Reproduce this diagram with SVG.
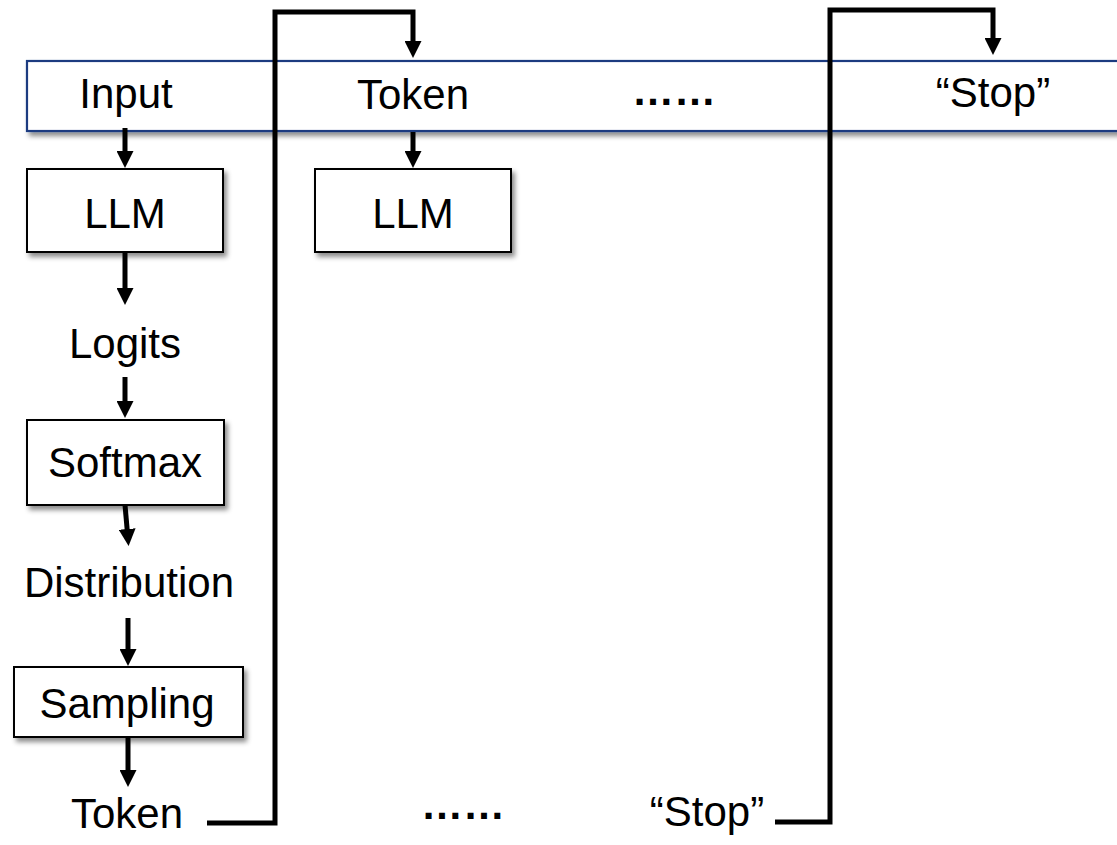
<svg xmlns="http://www.w3.org/2000/svg" width="1117" height="845" viewBox="0 0 1117 845">
  <style>
    .lbl { font-family: "Liberation Sans", Arial, sans-serif; font-size: 42px; fill: #000; text-anchor: middle; }
    .dots { font-family: "Liberation Sans", Arial, sans-serif; font-size: 42px; font-weight: bold; fill: #000; text-anchor: middle; }
    .box { fill: #fff; stroke: #000; stroke-width: 2; filter: url(#shadow); }
    .banner { fill: #fff; stroke: #1F3A80; stroke-width: 2.2; filter: url(#shadow); }
    .conn { fill: none; stroke: #000; stroke-width: 5; stroke-linejoin: miter; }
    .arr { marker-end: url(#ah); }
  </style>
  <defs>
    <filter id="shadow" x="-10%" y="-10%" width="130%" height="140%">
      <feDropShadow dx="3" dy="4" stdDeviation="2.5" flood-color="#000" flood-opacity="0.45"/>
    </filter>
    <marker id="ah" viewBox="0 0 17 17" refX="1" refY="8.5" markerWidth="17" markerHeight="17" markerUnits="userSpaceOnUse" orient="auto">
      <path d="M0,0 L17,8.5 L0,17 z" fill="#000"/>
    </marker>
  </defs>

  <g id="banner">
    <rect class="banner" x="27" y="61" width="1110" height="70"/>
    <text class="lbl" x="126" y="108">Input</text>
    <text class="lbl" x="413" y="109">Token</text>
    <text class="dots" x="674" y="105">……</text>
    <text class="lbl" x="993" y="107">“Stop”</text>
  </g>

  <g id="llm1">
    <rect class="box" x="27" y="169" width="196" height="83"/>
    <text class="lbl" x="125" y="228">LLM</text>
  </g>
  <g id="llm2">
    <rect class="box" x="315" y="169" width="196" height="83"/>
    <text class="lbl" x="413" y="228">LLM</text>
  </g>
  <g id="logits">
    <text class="lbl" x="125" y="358">Logits</text>
  </g>
  <g id="softmax">
    <rect class="box" x="27" y="420" width="197" height="85"/>
    <text class="lbl" x="125" y="477">Softmax</text>
  </g>
  <g id="distribution">
    <text class="lbl" x="129" y="597">Distribution</text>
  </g>
  <g id="sampling">
    <rect class="box" x="14" y="667" width="229" height="70"/>
    <text class="lbl" x="127" y="718">Sampling</text>
  </g>
  <g id="token-out">
    <text class="lbl" x="127" y="828">Token</text>
  </g>
  <g id="dots-out">
    <text class="dots" x="463" y="819">……</text>
  </g>
  <g id="stop-out">
    <text class="lbl" x="707" y="826">“Stop”</text>
  </g>

  <g id="connectors">
    <path class="conn arr" d="M125,128 V152"/>
    <path class="conn arr" d="M125,252 V289"/>
    <path class="conn arr" d="M125,377 V402"/>
    <path class="conn arr" d="M125,505 L127.2,530"/>
    <path class="conn arr" d="M128,618 V650"/>
    <path class="conn arr" d="M128,737 V771"/>
    <path class="conn arr" d="M413,132 V152"/>
    <path class="conn arr" d="M207,823 H275 V12 H413 V42"/>
    <path class="conn arr" d="M775,822 H830 V10 H993 V39"/>
  </g>
</svg>
